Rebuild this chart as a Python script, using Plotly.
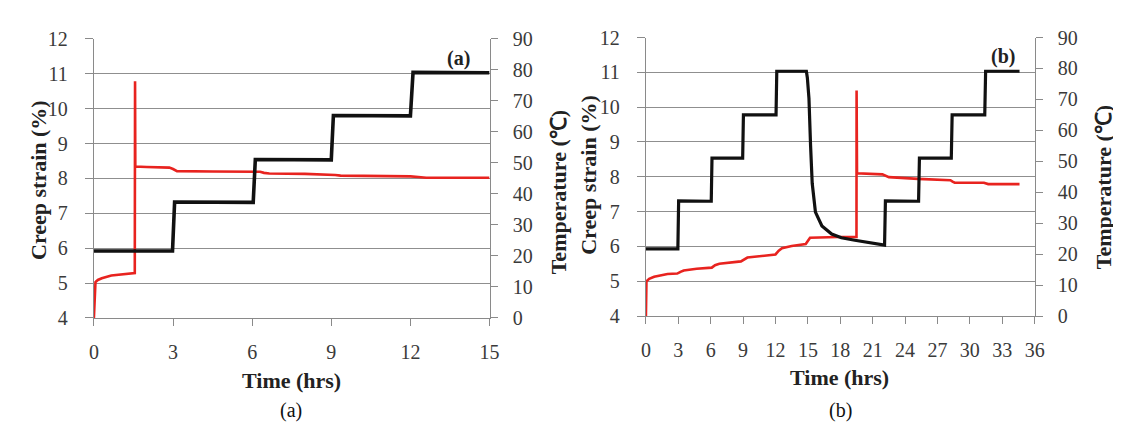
import plotly.graph_objects as go

# ---------------- Data ----------------
# Panel (a)
time_a_temp = [0, 2.98, 3.06, 6.04, 6.12, 9.0, 9.08, 12.0, 12.1, 15.0]
temp_a = [21.6, 21.6, 37.4, 37.3, 51.1, 51.0, 65.3, 65.2, 79.2, 79.1]

time_a_strain = [0, 0.06, 0.15, 0.3, 0.66, 1.0, 1.4, 1.55, 1.56, 1.57, 2.0, 2.86, 3.0, 3.15,
                 4.5, 6.3, 6.45, 6.65, 8.0, 9.0, 9.15, 9.35, 11.0, 12.0, 12.3, 12.6, 15.0]
strain_a = [4.0, 5.03, 5.09, 5.14, 5.22, 5.25, 5.27, 5.29, 10.79, 8.34, 8.33, 8.31, 8.27, 8.21,
            8.2, 8.19, 8.16, 8.14, 8.13, 8.12, 8.1, 8.08, 8.07, 8.06, 8.04, 8.02, 8.02]

# Panel (b)
time_b_temp = [0, 2.96, 3.03, 6.05, 6.12, 8.96, 9.03, 12.05, 12.12, 14.86, 14.95, 15.1, 15.25,
               15.4, 15.7, 16.3, 17.2, 18.1, 19.35, 20.9, 22.1, 22.18, 25.25, 25.33, 28.28, 28.36,
               31.38, 31.46, 34.6]
temp_b = [21.7, 21.7, 37.2, 37.1, 51.0, 51.0, 65.0, 65.0, 79.1, 79.1, 77.0, 70.3, 55.0,
          42.9, 33.6, 29.1, 26.5, 25.3, 24.5, 23.7, 22.9, 37.2, 37.1, 51.0, 51.0, 65.0,
          65.0, 79.1, 79.1]

time_b_strain = [0, 0.05, 0.3, 0.76, 2.0, 2.9, 3.2, 3.5, 4.7, 6.1, 6.4, 6.8, 8.8, 9.1, 9.4,
                 12.0, 12.3, 12.6, 13.5, 14.8, 15.0, 15.2, 17.8, 19.5, 19.51, 19.55, 21.9,
                 22.2, 22.5, 25.2, 28.2, 28.4, 28.6, 31.3, 31.5, 31.7, 34.6]
strain_b = [4.0, 5.0, 5.07, 5.13, 5.21, 5.22, 5.27, 5.31, 5.36, 5.39, 5.46, 5.5, 5.57, 5.62, 5.68,
            5.77, 5.88, 5.95, 6.01, 6.07, 6.18, 6.25, 6.27, 6.27, 10.48, 8.1, 8.07,
            8.02, 7.99, 7.94, 7.9, 7.86, 7.83, 7.83, 7.81, 7.79, 7.79]

strain_ticks = list(range(4, 13))
temp_ticks = list(range(0, 91, 10))
time_ticks_a = list(range(0, 16, 3))
time_ticks_b = list(range(0, 37, 3))

# ---------------- Styling ----------------
W, H = 1121, 432
FONT = "Liberation Serif"
RED = "#e8231f"
BLACK = "#111111"
GRID = "#8f8f8f"
AXIS = "#8a8a8a"
TICKFONT = dict(family=FONT, size=20, color="#3a3a3a")

def px_x(p):
    return p / W

def px_y(p):
    return 1 - p / H

fig = go.Figure()

# Panel (a)
fig.add_trace(go.Scatter(x=time_a_strain, y=strain_a, mode="lines",
                         line=dict(color=RED, width=2.6), xaxis="x", yaxis="y", showlegend=False))
fig.add_trace(go.Scatter(x=time_a_temp, y=temp_a, mode="lines",
                         line=dict(color=BLACK, width=3.6), xaxis="x", yaxis="y2", showlegend=False))
# Panel (b)
fig.add_trace(go.Scatter(x=time_b_strain, y=strain_b, mode="lines",
                         line=dict(color=RED, width=2.6), xaxis="x2", yaxis="y3", showlegend=False))
fig.add_trace(go.Scatter(x=time_b_temp, y=temp_b, mode="lines",
                         line=dict(color=BLACK, width=3.2), xaxis="x2", yaxis="y4", showlegend=False))

common_x = dict(showgrid=False, showline=True, linecolor=AXIS, linewidth=1.2, ticks="outside",
                ticklen=7, tickcolor=AXIS, tickwidth=1, tickfont=TICKFONT, zeroline=False,
                ticklabelstandoff=9)
common_yl = dict(showgrid=True, gridcolor=GRID, gridwidth=1, showline=True, linecolor=AXIS,
                 linewidth=1.2, ticks="outside", ticklen=8, tickcolor=AXIS, tickfont=TICKFONT,
                 zeroline=False, range=[4, 12], tickvals=strain_ticks, ticklabelstandoff=13)
common_yr = dict(showgrid=False, showline=True, linecolor=AXIS, linewidth=1.2, ticks="outside",
                 ticklen=7, tickcolor=AXIS, tickfont=TICKFONT, zeroline=False, range=[0, 90],
                 tickvals=temp_ticks, side="right", ticklabelstandoff=11)

ay_bot, ay_top = 315, 21
by_bot, by_top = 313, 19.5
ax_l, ax_r = 82, 483
bx_l, bx_r = 641.5, 1035.5

fig.update_layout(
    width=W, height=H, autosize=False,
    margin=dict(l=0, r=0, t=0, b=0),
    paper_bgcolor="white", plot_bgcolor="white",
    xaxis=dict(common_x, domain=[px_x(ax_l), px_x(ax_r)], range=[0, 15], tickvals=time_ticks_a,
               anchor="y"),
    yaxis=dict(common_yl, domain=[px_y(ay_bot), px_y(ay_top)], anchor="x"),
    yaxis2=dict(common_yr, overlaying="y", anchor="x"),
    xaxis2=dict(common_x, domain=[px_x(bx_l), px_x(bx_r)], range=[0, 36], tickvals=time_ticks_b,
                anchor="y3"),
    yaxis3=dict(common_yl, domain=[px_y(by_bot), px_y(by_top)], anchor="x2"),
    yaxis4=dict(common_yr, overlaying="y3", anchor="x2"),
)

def ann(text, x, y, size=22, bold=True, angle=0, color="#222222"):
    fig.add_annotation(text=f"<b>{text}</b>" if bold else text, x=px_x(x), y=px_y(y),
                       xref="paper", yref="paper", showarrow=False, textangle=angle,
                       font=dict(family=FONT, size=size, color=color),
                       xanchor="center", yanchor="middle")

# Axis titles
ann("Creep strain (%)", 26, 170, angle=-90)
ann("Temperature (℃)", 553, 183, angle=-90)
ann("Creep strain (%)", 583, 164, angle=-90)
ann("Temperature (℃)", 1106, 177, angle=-90)
ann("Time (hrs)", 282, 381)
ann("Time (hrs)", 838, 378)
# Panel labels inside plots
ann("(a)", 452, 42, size=20)
ann("(b)", 1003, 40, size=20)
# Captions
ann("(a)", 282, 413, size=20, bold=False, color="#111111")
ann("(b)", 839, 413, size=20, bold=False, color="#111111")

fig.write_html("out.html")
